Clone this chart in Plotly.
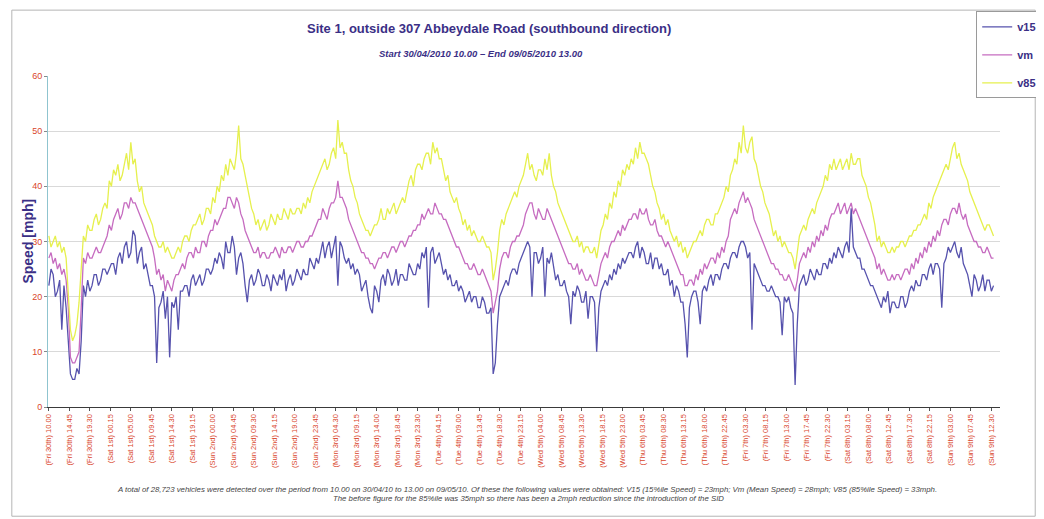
import pandas as pd
import plotly.graph_objects as go

# ---------------- data (half-hourly readings, from 30/04/2010 10:00) ----------------
start = "2010-04-30 10:00"
step = "30min"

v15 = [
    22, 25, 24, 20, 21, 23, 14, 22, 18, 12, 6, 5, 5, 7, 6, 12, 22, 20, 23, 21, 22, 24, 24, 22, 23, 25, 25, 24,
    25, 26, 26, 24, 27, 28, 26, 29, 30, 27, 28, 32, 31, 26, 28, 29, 25, 26, 24, 22,
    22, 20, 8, 18, 19, 21, 16, 20, 9, 19, 18, 20, 14, 21, 21, 22, 22, 20, 23, 24, 22, 23, 24, 22, 23, 25, 25, 24,
    25, 27, 26, 28, 27, 25, 30, 28, 28, 31, 29, 24, 27, 28, 26, 22, 19, 23, 24, 22,
    23, 25, 24, 22, 22, 24, 23, 21, 24, 23, 22, 24, 23, 25, 21, 23, 24, 22, 23, 25, 24, 23, 25, 24, 24, 27, 26, 25,
    27, 26, 28, 30, 27, 29, 30, 27, 29, 31, 22, 30, 29, 27, 26, 27, 25, 26, 24, 25,
    24, 21, 22, 23, 20, 18, 17, 22, 21, 19, 23, 24, 22, 25, 24, 22, 23, 25, 22, 24, 24, 23, 23, 26, 25, 24, 24, 26,
    25, 28, 27, 29, 18, 28, 29, 26, 27, 28, 26, 24, 25, 23, 24, 22, 22, 23, 21, 22,
    21, 19, 20, 21, 19, 20, 20, 18, 18, 20, 19, 17, 17, 18, 6, 8, 15, 20, 21, 22, 23, 22, 24, 25, 25, 24, 26, 27,
    28, 29, 30, 29, 20, 28, 28, 26, 27, 29, 20, 27, 26, 28, 25, 23, 24, 22, 22, 23,
    21, 20, 15, 21, 20, 22, 21, 19, 19, 21, 16, 20, 20, 19, 10, 18, 21, 22, 23, 22, 24, 23, 25, 24, 26, 25, 27, 26,
    27, 28, 28, 27, 29, 30, 27, 29, 28, 26, 26, 28, 25, 27, 27, 25, 26, 24, 24, 25,
    22, 23, 20, 22, 21, 19, 19, 15, 9, 18, 20, 21, 21, 19, 15, 21, 22, 21, 23, 24, 22, 24, 24, 23, 25, 26, 26, 25,
    27, 28, 28, 27, 29, 30, 30, 29, 27, 28, 14, 26, 25, 24, 23, 22, 22, 21, 21, 22,
    21, 20, 20, 19, 13, 20, 19, 20, 18, 17, 4, 15, 22, 23, 24, 22, 23, 25, 24, 23, 25, 24, 24, 26, 26, 25, 27, 26,
    28, 27, 29, 28, 27, 29, 30, 28, 36, 29, 28, 27, 27, 25, 25, 24, 23, 22, 22, 21,
    20, 19, 18, 20, 19, 21, 17, 19, 19, 18, 18, 20, 20, 18, 19, 21, 22, 21, 23, 22, 22, 24, 24, 23, 25, 26, 24, 26,
    26, 25, 18, 26, 27, 29, 28, 29, 30, 28, 27, 29, 26, 25, 24, 22, 20, 24, 23, 21,
    22, 24, 21, 23, 23, 21, 22,
]

vm = [
    27, 28, 26, 27, 25, 26, 24, 25, 23, 18, 9, 8, 8, 9, 10, 18, 27, 26, 28, 27, 27, 28, 29, 28, 28, 29, 30, 31,
    33, 32, 34, 35, 36, 34, 35, 37, 37, 36, 38, 37, 37, 36, 35, 34, 33, 32, 31, 30,
    29, 27, 24, 25, 23, 24, 21, 23, 22, 21, 23, 24, 24, 25, 26, 25, 27, 28, 28, 27, 29, 28, 28, 30, 30, 29, 31, 32,
    32, 34, 33, 34, 35, 36, 36, 38, 38, 37, 36, 38, 37, 35, 34, 32, 31, 30, 29, 28,
    28, 29, 27, 28, 28, 27, 27, 28, 28, 29, 28, 27, 29, 28, 28, 29, 29, 28, 29, 30, 30, 29, 29, 30, 30, 31, 31, 32,
    33, 34, 34, 36, 35, 34, 36, 37, 37, 38, 41, 38, 38, 37, 36, 34, 33, 32, 31, 30,
    29, 28, 28, 27, 27, 26, 26, 25, 26, 27, 27, 28, 28, 27, 28, 29, 29, 28, 29, 30, 30, 29, 30, 31, 31, 32, 32, 33,
    33, 35, 34, 35, 36, 35, 35, 37, 36, 35, 35, 34, 34, 33, 32, 31, 30, 29, 29, 28,
    27, 26, 26, 25, 25, 26, 25, 24, 24, 25, 24, 23, 22, 21, 17, 19, 21, 25, 27, 28, 28, 27, 29, 30, 30, 31, 31, 32,
    33, 35, 36, 37, 37, 35, 34, 36, 35, 34, 34, 36, 35, 34, 33, 32, 31, 30, 29, 28,
    27, 26, 26, 25, 25, 26, 24, 25, 24, 23, 23, 24, 23, 22, 22, 24, 26, 27, 28, 27, 29, 30, 30, 31, 32, 31, 33, 32,
    33, 34, 34, 35, 35, 34, 36, 35, 35, 36, 34, 33, 33, 34, 32, 31, 31, 30, 29, 30,
    29, 28, 27, 26, 25, 24, 24, 22, 22, 23, 23, 22, 24, 23, 25, 24, 26, 25, 26, 27, 27, 26, 28, 27, 29, 28, 30, 31,
    34, 35, 36, 35, 37, 38, 39, 37, 38, 37, 36, 34, 33, 32, 31, 30, 29, 28, 27, 26,
    26, 25, 25, 24, 24, 23, 23, 24, 23, 22, 21, 23, 26, 27, 28, 27, 29, 28, 30, 29, 31, 30, 32, 31, 33, 32, 34, 35,
    35, 36, 37, 35, 36, 37, 35, 36, 37, 35, 36, 35, 34, 33, 32, 31, 30, 29, 28, 27,
    25, 26, 24, 25, 24, 23, 23, 24, 23, 24, 24, 23, 24, 25, 25, 24, 26, 25, 27, 26, 28, 27, 29, 28, 30, 29, 31, 30,
    32, 31, 33, 34, 34, 33, 35, 36, 36, 35, 37, 35, 34, 35, 33, 32, 31, 30, 30, 29,
    29, 28, 28, 29, 28, 27, 27,
]

v85 = [
    31, 29, 30, 31, 29, 30, 28, 29, 27, 20, 14, 12, 13, 15, 19, 25, 31, 30, 33, 32, 32, 34, 35, 33, 34, 36, 37, 36,
    41, 40, 43, 42, 44, 41, 42, 44, 46, 43, 48, 44, 45, 41, 39, 40, 37, 36, 35, 34,
    33, 31, 30, 29, 29, 30, 28, 29, 28, 27, 27, 28, 29, 28, 30, 31, 31, 30, 32, 33, 33, 34, 35, 33, 34, 36, 36, 35,
    38, 37, 40, 39, 42, 41, 44, 42, 45, 44, 43, 46, 51, 45, 44, 42, 40, 38, 36, 35,
    33, 34, 32, 33, 34, 32, 33, 35, 34, 33, 35, 34, 34, 36, 35, 34, 36, 35, 35, 36, 36, 35, 37, 36, 38, 37, 39, 40,
    41, 42, 43, 44, 45, 43, 44, 46, 47, 45, 52, 47, 48, 46, 46, 43, 41, 40, 38, 37,
    35, 34, 33, 32, 32, 31, 32, 33, 33, 34, 36, 34, 34, 36, 35, 36, 37, 35, 36, 37, 38, 37, 39, 41, 42, 40, 43, 44,
    44, 43, 45, 46, 46, 44, 48, 46, 47, 45, 45, 43, 41, 42, 39, 38, 37, 38, 36, 35,
    33, 34, 32, 33, 31, 32, 31, 30, 30, 31, 30, 29, 29, 28, 23, 25, 28, 32, 34, 33, 35, 36, 37, 38, 39, 38, 40, 41,
    42, 44, 46, 43, 44, 42, 41, 43, 43, 42, 45, 43, 46, 42, 40, 39, 37, 36, 35, 34,
    33, 32, 31, 30, 30, 31, 29, 30, 28, 29, 29, 28, 28, 29, 27, 30, 32, 33, 35, 34, 37, 36, 39, 38, 41, 40, 43, 42,
    44, 43, 45, 44, 47, 45, 48, 46, 46, 45, 44, 42, 40, 39, 37, 36, 34, 35, 33, 34,
    32, 31, 30, 31, 29, 30, 28, 29, 27, 28, 29, 30, 30, 31, 32, 31, 33, 34, 34, 33, 33, 35, 35, 36, 37, 38, 40, 39,
    42, 43, 45, 44, 48, 46, 51, 47, 46, 48, 49, 45, 44, 42, 40, 39, 37, 36, 35, 33,
    31, 32, 30, 31, 29, 30, 29, 28, 28, 27, 25, 28, 31, 32, 33, 32, 34, 35, 36, 35, 37, 38, 39, 40, 42, 41, 44, 43,
    45, 43, 44, 45, 43, 44, 45, 43, 46, 44, 44, 45, 45, 42, 41, 40, 38, 37, 35, 33,
    30, 31, 29, 30, 29, 28, 28, 29, 28, 29, 29, 30, 30, 29, 30, 31, 31, 32, 32, 33, 33, 34, 35, 34, 37, 36, 38, 39,
    40, 41, 42, 43, 44, 43, 45, 47, 48, 45, 46, 44, 43, 42, 41, 39, 38, 37, 36, 35,
    34, 33, 32, 33, 33, 32, 31,
]

tick_labels = [
    "(Fri 30th) 10.00", "(Fri 30th) 14.45", "(Fri 30th) 19.30",
    "(Sat 1st) 00.15", "(Sat 1st) 05.00", "(Sat 1st) 09.45", "(Sat 1st) 14.30", "(Sat 1st) 19.15",
    "(Sun 2nd) 00.00", "(Sun 2nd) 04.45", "(Sun 2nd) 09.30", "(Sun 2nd) 14.15", "(Sun 2nd) 19.00", "(Sun 2nd) 23.45",
    "(Mon 3rd) 04.30", "(Mon 3rd) 09.15", "(Mon 3rd) 14.00", "(Mon 3rd) 18.45", "(Mon 3rd) 23.30",
    "(Tue 4th) 04.15", "(Tue 4th) 09.00", "(Tue 4th) 13.45", "(Tue 4th) 18.30", "(Tue 4th) 23.15",
    "(Wed 5th) 04.00", "(Wed 5th) 08.45", "(Wed 5th) 13.30", "(Wed 5th) 18.15", "(Wed 5th) 23.00",
    "(Thu 6th) 03.45", "(Thu 6th) 08.30", "(Thu 6th) 13.15", "(Thu 6th) 18.00", "(Thu 6th) 22.45",
    "(Fri 7th) 03.30", "(Fri 7th) 08.15", "(Fri 7th) 13.00", "(Fri 7th) 17.45", "(Fri 7th) 22.30",
    "(Sat 8th) 03.15", "(Sat 8th) 08.00", "(Sat 8th) 12.45", "(Sat 8th) 17.30", "(Sat 8th) 22.15",
    "(Sun 9th) 03.00", "(Sun 9th) 07.45", "(Sun 9th) 12.30",
]
tick_step = "285min"  # labels every 4h45

title = "Site 1, outside 307 Abbeydale Road (southbound direction)"
subtitle = "Start 30/04/2010 10.00 \u2013 End 09/05/2010 13.00"
y_title = "Speed [mph]"
note1 = ("A total of 28,723 vehicles were detected over the period from 10.00 on 30/04/10 to 13.00 on 09/05/10. "
         "Of these the following values were obtained: V15 (15%ile Speed) = 23mph; Vm (Mean Speed) = 28mph; "
         "V85 (85%ile Speed) = 33mph.")
note2 = "The before figure for the 85%ile was 35mph so there has been a 2mph reduction since the introduction of the SID"

# ---------------- figure ----------------
tick_pos = pd.date_range(start, periods=len(tick_labels), freq=tick_step)

FONT = "Liberation Sans Narrow, Liberation Sans, Arial, sans-serif"
NAVY = "#3b2f86"
RED = "#d9452b"

fig = go.Figure()
series = [("v15", v15, "#5652ad"), ("vm", vm, "#c66cc0"), ("v85", v85, "#e6f04e")]
for name, vals, col in series:
    t = pd.date_range(start, periods=len(vals), freq=step)
    fig.add_trace(go.Scatter(x=t, y=vals, mode="lines", name="<b>" + name + "</b>", legendgroup=name,
                             line=dict(color=col, width=1.3)))

t_start = pd.Timestamp(start)
x0 = t_start - pd.Timedelta(minutes=12)
x1 = t_start + pd.Timedelta(hours=220, minutes=30)

# page body adds an 8px offset, so the figure is 8px smaller and margins shifted
fig.update_layout(
    width=1036, height=511,
    margin=dict(l=40, r=44, t=68, b=112, autoexpand=False),
    paper_bgcolor="white", plot_bgcolor="white",
    font=dict(family=FONT, color="#333"),
    showlegend=True,
    legend=dict(x=0.975, y=1.195, xanchor="left", yanchor="top",
                bordercolor="#9a9a9a", borderwidth=1, bgcolor="white",
                font=dict(family=FONT, size=11, color=NAVY),
                tracegroupgap=9, itemwidth=30),
    xaxis=dict(range=[x0, x1], tickmode="array", tickvals=tick_pos, ticktext=tick_labels,
               tickangle=-90, tickfont=dict(family=FONT, size=7.5, color=RED),
               showgrid=False, showline=True, linecolor="#3a3a3a", linewidth=1.2,
               ticks="outside", ticklen=3, tickcolor="#555", zeroline=False, automargin=False),
    yaxis=dict(range=[0, 60], dtick=10, tickfont=dict(family=FONT, size=9, color=RED),
               showgrid=True, gridcolor="#d9d9d9", gridwidth=1,
               showline=True, linecolor="#8fc4cf", linewidth=1,
               ticks="outside", ticklen=3, tickcolor="#888", zeroline=False, automargin=False),
)

# chart frame (scan border)
fig.add_shape(type="rect", xref="paper", yref="paper",
              x0=-0.038, x1=1.037, y0=-0.33, y1=1.199,
              line=dict(color="#b5b5b5", width=1), layer="below")

fig.add_annotation(text="<b>" + y_title + "</b>", xref="paper", yref="paper",
                   x=-0.022, y=0.5, showarrow=False, textangle=-90,
                   xanchor="center", yanchor="middle",
                   font=dict(family=FONT, size=14, color=NAVY))
fig.add_annotation(text="<b>" + title + "</b>", xref="paper", yref="paper",
                   x=0.463, y=1.145, showarrow=False, xanchor="center", yanchor="middle",
                   font=dict(family=FONT, size=13, color=NAVY))
fig.add_annotation(text="<b><i>" + subtitle + "</i></b>", xref="paper", yref="paper",
                   x=0.455, y=1.068, showarrow=False, xanchor="center", yanchor="middle",
                   font=dict(family=FONT, size=9.5, color=NAVY))
fig.add_annotation(text="<i>" + note1 + "</i>", xref="paper", yref="paper",
                   x=0.503, y=-0.248, showarrow=False, xanchor="center", yanchor="middle",
                   font=dict(family=FONT, size=7.8, color="#444"))
fig.add_annotation(text="<i>" + note2 + "</i>", xref="paper", yref="paper",
                   x=0.505, y=-0.276, showarrow=False, xanchor="center", yanchor="middle",
                   font=dict(family=FONT, size=7.8, color="#444"))

fig.write_html("out.html")
